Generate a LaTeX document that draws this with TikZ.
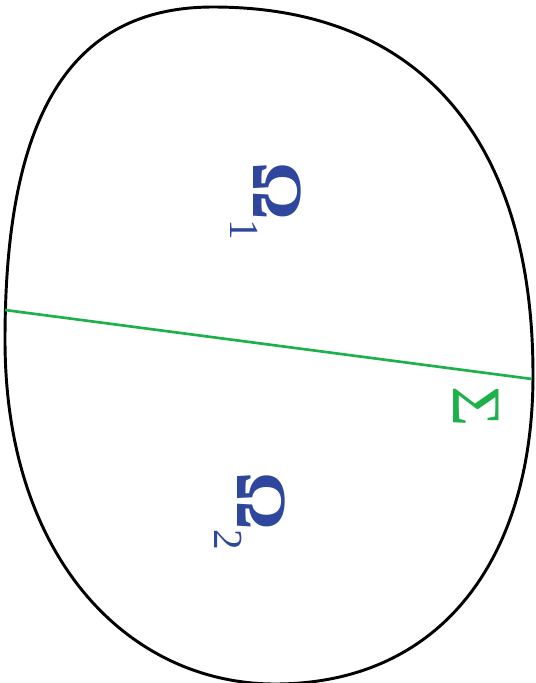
\documentclass[tikz,border=0pt]{standalone}
\usepackage{fontspec}
\setmainfont{Liberation Serif}
\definecolor{omblue}{HTML}{2E479C}
\definecolor{sigreen}{HTML}{1DB14B}
\tikzset{
  outline/.style={draw=black, line width=2.2pt},
  iface/.style={draw=sigreen, line width=2pt},
  lab/.style={inner sep=0pt, outer sep=0pt, rotate=-90}
}
\begin{document}
\begin{tikzpicture}[x=0.75pt,y=-0.75pt]
\useasboundingbox (0,0) rectangle (536,683);
\coordinate (T) at (213,7);
\coordinate (E) at (533,375);
\coordinate (B) at (275,684);
\coordinate (W) at (5,340);
\draw[outline] (W) .. controls (5,117) and (69,7) .. (T)
  .. controls (420,7) and (533,140) .. (E)
  .. controls (533,560) and (440,684) .. (B)
  .. controls (130,684) and (5,560) .. (W) -- cycle;
\coordinate (L) at (5,310);
\coordinate (R) at (532,379);
\draw[iface] (L) -- (R);
\node[lab, text=omblue, anchor=base west] (o1) at (253,162)
  {\fontsize{54pt}{54pt}\selectfont\bfseries Ω\raisebox{-17pt}{\fontsize{31pt}{31pt}\selectfont\mdseries 1}};
\node[lab, text=omblue, anchor=base west] (o2) at (237,472)
  {\fontsize{54pt}{54pt}\selectfont\bfseries Ω\raisebox{-17pt}{\fontsize{31pt}{31pt}\selectfont\mdseries 2}};
\node[lab, text=sigreen, anchor=base west] (s) at (453,386)
  {\fontsize{52pt}{52pt}\selectfont Σ};
\end{tikzpicture}
\end{document}
